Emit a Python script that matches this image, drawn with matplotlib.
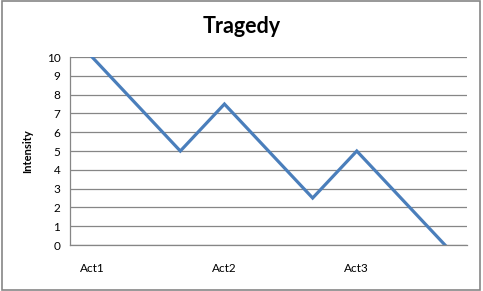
import matplotlib.pyplot as plt
from matplotlib.patches import Rectangle

# data
positions = [0, 2, 3, 5, 6, 8]
intensity = [10, 5, 7.5, 2.5, 5, 0]
act_ticks = [0, 3, 6]
act_labels = ["Act1", "Act2", "Act3"]

plt.rcParams['font.family'] = ['Lato', 'DejaVu Sans']

fig = plt.figure(figsize=(4.83, 2.91), dpi=100)
ax = fig.add_axes([0.145, 0.158, 0.822, 0.646])

# outer chart border
fig.patches.append(Rectangle((0.004, 0.005), 0.99, 0.99, transform=fig.transFigure,
                             fill=False, edgecolor='#868686', linewidth=1.2))

ax.plot(positions, intensity, color='#4A7EBB', linewidth=2.3, solid_joinstyle='miter')

ax.set_xlim(-0.5, 8.5)
ax.set_ylim(0, 10)
ax.set_yticks(range(0, 11))
ax.set_xticks(act_ticks)
ax.set_xticklabels(act_labels, fontsize=8.5)
ax.tick_params(axis='y', length=0, pad=7, labelsize=8.5)
ax.tick_params(axis='x', length=0, pad=13)
ax.yaxis.grid(True, color='#868686', linewidth=0.9)
ax.set_axisbelow(True)

for side in ['top', 'right']:
    ax.spines[side].set_visible(False)
for side in ['left', 'bottom']:
    ax.spines[side].set_color('#868686')
    ax.spines[side].set_linewidth(0.9)

ax.set_ylabel("Intensity", fontsize=8, fontweight='bold', labelpad=10)
fig.suptitle("Tragedy", fontsize=15.5, fontweight='bold', y=0.945)

fig.savefig("out.png", dpi=100)
